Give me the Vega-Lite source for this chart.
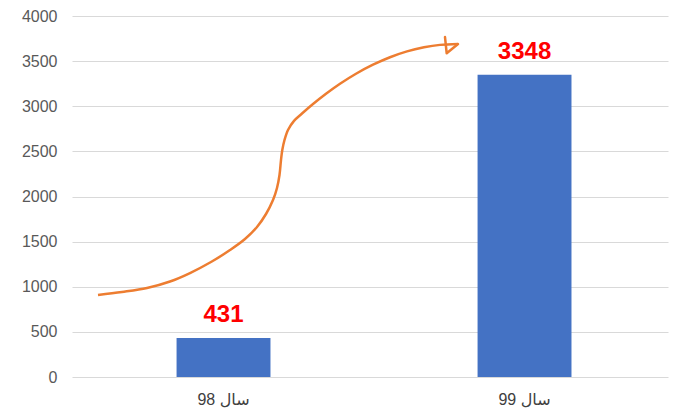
{
  "$schema": "https://vega.github.io/schema/vega-lite/v6.json",
  "autosize": {"type": "none"},
  "width": 596,
  "height": 361,
  "padding": {"left": 72, "top": 16, "right": 12, "bottom": 42},
  "background": "white",
  "config": {
    "view": {"stroke": null},
    "font": "Liberation Sans, DejaVu Sans, sans-serif"
  },
  "datasets": {
    "bars": [
      {"year": "98 سال", "value": 431},
      {"year": "99 سال", "value": 3348}
    ],
    "curve": [
      {"px": 26, "value": 909},
      {"px": 50, "value": 942},
      {"px": 75, "value": 986},
      {"px": 98, "value": 1058},
      {"px": 118, "value": 1152},
      {"px": 139, "value": 1274},
      {"px": 158, "value": 1407},
      {"px": 173, "value": 1529},
      {"px": 185, "value": 1662},
      {"px": 194, "value": 1806},
      {"px": 201, "value": 1961},
      {"px": 205, "value": 2094},
      {"px": 207.5, "value": 2238},
      {"px": 209, "value": 2404},
      {"px": 210.3, "value": 2515},
      {"px": 212.5, "value": 2626},
      {"px": 216, "value": 2737},
      {"px": 222, "value": 2838},
      {"px": 230, "value": 2919},
      {"px": 241, "value": 3024},
      {"px": 254, "value": 3138},
      {"px": 268, "value": 3249},
      {"px": 284, "value": 3360},
      {"px": 301, "value": 3460},
      {"px": 318, "value": 3543},
      {"px": 335, "value": 3608},
      {"px": 352, "value": 3653},
      {"px": 368, "value": 3680},
      {"px": 386, "value": 3690}
    ],
    "head": [
      {"px": 373, "value": 3767},
      {"px": 386, "value": 3690},
      {"px": 374.7, "value": 3587}
    ]
  },
  "layer": [
    {
      "data": {"name": "bars"},
      "encoding": {
        "x": {
          "field": "year",
          "type": "nominal",
          "sort": null,
          "scale": {"paddingInner": 0.688, "paddingOuter": 0.334, "align": 0.52},
          "axis": {
            "title": null,
            "labelAngle": 0,
            "ticks": false,
            "domain": false,
            "labelPadding": 14,
            "labelFontSize": 16,
            "labelColor": "#404040"
          }
        },
        "y": {
          "field": "value",
          "type": "quantitative",
          "scale": {"domain": [0, 4000], "nice": false},
          "axis": {
            "title": null,
            "format": "d",
            "values": [0, 500, 1000, 1500, 2000, 2500, 3000, 3500, 4000],
            "grid": true,
            "gridColor": "#d9d9d9",
            "gridWidth": 1,
            "domain": false,
            "ticks": false,
            "tickSize": 0,
            "labelPadding": 15,
            "labelFontSize": 16,
            "labelColor": "#595959"
          }
        }
      },
      "layer": [
        {"mark": {"type": "bar", "color": "#4472C4"}},
        {
          "mark": {
            "type": "text",
            "color": "#FF0000",
            "fontSize": 24,
            "fontWeight": "bold",
            "baseline": "alphabetic",
            "dy": -16
          },
          "encoding": {"text": {"field": "value", "type": "quantitative", "format": "d"}}
        }
      ]
    },
    {
      "data": {"name": "curve"},
      "mark": {"type": "line", "color": "#ED7D31", "strokeWidth": 2.5, "interpolate": "catmull-rom"},
      "encoding": {
        "x": {"field": "px", "type": "quantitative", "scale": {"domain": [0, 596], "nice": false}, "axis": null},
        "y": {"field": "value", "type": "quantitative"}
      }
    },
    {
      "data": {"name": "head"},
      "mark": {"type": "line", "color": "#ED7D31", "strokeWidth": 2.5, "strokeCap": "round", "strokeJoin": "round"},
      "encoding": {
        "x": {"field": "px", "type": "quantitative", "scale": {"domain": [0, 596], "nice": false}, "axis": null},
        "y": {"field": "value", "type": "quantitative"},
        "order": {"field": "px", "type": "quantitative"}
      }
    }
  ],
  "resolve": {"scale": {"x": "independent"}}
}
